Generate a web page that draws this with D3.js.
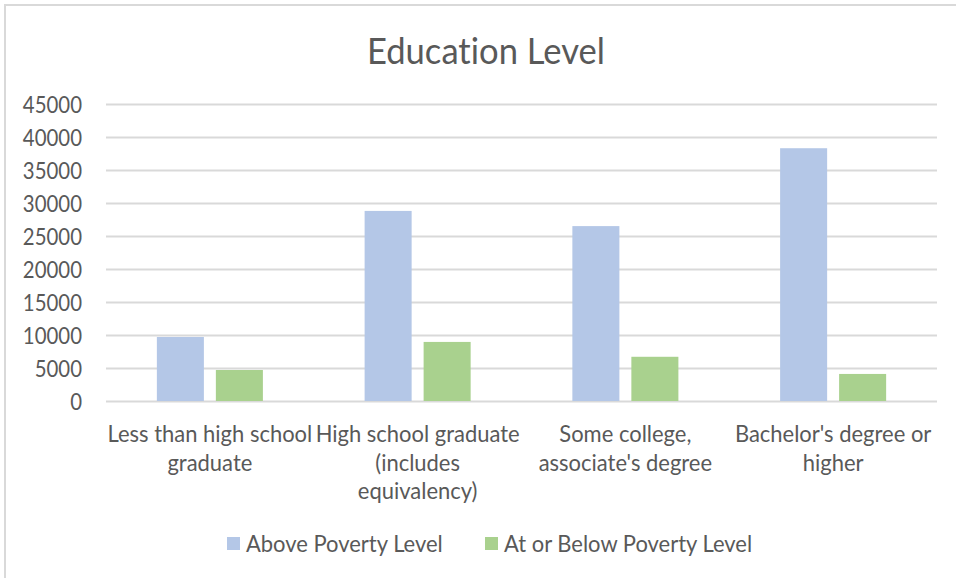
<!DOCTYPE html>
<html>
<head>
<meta charset="utf-8">
<script src="https://cdn.jsdelivr.net/npm/d3@7"></script>
<style>
  html, body { margin: 0; padding: 0; background: #fff; }
  svg { display: block; }
  text { font-family: Lato, "Open Sans", sans-serif; fill: #595959; font-variant-ligatures: none; }
</style>
</head>
<body>
<svg id="chart" width="956" height="578"></svg>
<script>
const title = "Education Level";
const categories = [
  "Less than high school\ngraduate",
  "High school graduate\n(includes\nequivalency)",
  "Some college,\nassociate's degree",
  "Bachelor's degree or\nhigher"
];
const seriesNames = ["Above Poverty Level", "At or Below Poverty Level"];
const abovePoverty = [9700, 28800, 26500, 38300];
const belowPoverty = [4700, 8950, 6700, 4100];
const yTicks = [0, 5000, 10000, 15000, 20000, 25000, 30000, 35000, 40000, 45000];
const colors = ["#b4c7e7", "#a9d18e"];

function condense(k) {
  return function(sel) {
    sel.each(function() {
      const w = this.getComputedTextLength();
      this.setAttribute("textLength", (w * k).toFixed(2));
      this.setAttribute("lengthAdjust", "spacingAndGlyphs");
    });
  };
}

const svg = d3.select("#chart");
const margin = { left: 106, right: 19, top: 104, bottom: 177 };
const W = 956, H = 578;
const x0 = d3.scaleBand().domain(categories).range([margin.left, W - margin.right]).paddingInner(0).paddingOuter(0);
const y = d3.scaleLinear().domain([0, 45000]).range([H - margin.bottom, margin.top]);

// border (only top and left visible)
svg.append("rect").attr("x", 5).attr("y", 5).attr("width", 1000).attr("height", 1000)
  .attr("fill", "none").attr("stroke", "#d9d9d9").attr("stroke-width", 2);

// title
svg.append("text").attr("x", 486).attr("y", 64).attr("text-anchor", "middle")
  .style("font-size", "37px").text(title).call(condense(0.935));

// gridlines
svg.append("g").selectAll("line").data(yTicks).join("line")
  .attr("x1", margin.left).attr("x2", W - margin.right)
  .attr("y1", d => Math.round(y(d)) + 0.5).attr("y2", d => Math.round(y(d)) + 0.5)
  .attr("stroke", "#d9d9d9").attr("stroke-width", 2);

// y axis labels
const yAxis = d3.axisLeft(y).tickValues(yTicks).tickSize(0).tickPadding(0).tickFormat(d3.format("d"));
const yg = svg.append("g").attr("transform", `translate(82,0)`).call(yAxis);
yg.select(".domain").remove();
yg.selectAll("text").style("font-size", "24px").style("font-family", "Lato, 'Open Sans', sans-serif")
  .attr("fill", "#595959").attr("dy", "0.34em").call(condense(0.85));

// bars
const x1 = d3.scaleBand().domain([0, 1]).range([0, x0.bandwidth()]).paddingInner(0.203).paddingOuter(0.862);
const groups = svg.append("g").selectAll("g").data(categories).join("g")
  .attr("transform", d => `translate(${x0(d)},0)`);
groups.selectAll("rect").data((d, i) => [abovePoverty[i], belowPoverty[i]]).join("rect")
  .attr("x", (d, j) => x1(j)).attr("width", x1.bandwidth())
  .attr("y", d => y(d)).attr("height", d => y(0) - y(d))
  .attr("fill", (d, j) => colors[j]);

// category labels
const catG = svg.append("g");
categories.forEach(c => {
  const lines = c.split("\n");
  const t = catG.append("text").attr("text-anchor", "middle").style("font-size", "24px");
  lines.forEach((ln, k) => {
    t.append("tspan").attr("x", x0(c) + x0.bandwidth() / 2).attr("y", 442 + k * 28.5).text(ln);
  });
  t.selectAll("tspan").call(condense(0.915));
});

// legend
const legendX = [227, 485];
const lg = svg.append("g").selectAll("g").data(seriesNames).join("g")
  .attr("transform", (d, i) => `translate(${legendX[i]},537)`);
lg.append("rect").attr("width", 13).attr("height", 13).attr("fill", (d, i) => colors[i]);
lg.append("text").attr("x", 19).attr("y", 15).style("font-size", "24px").text(d => d).call(condense(0.915));
</script>
</body>
</html>
